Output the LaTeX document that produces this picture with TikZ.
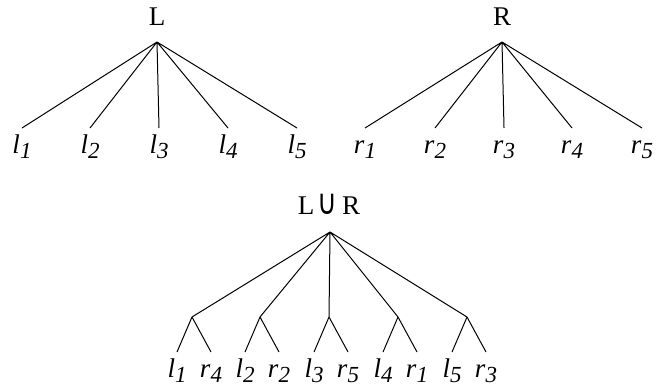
\documentclass[tikz,border=0pt]{standalone}
\usepackage{graphicx}
\usepackage{fontspec}
\setmainfont{Liberation Serif}
\newfontfamily\opfont{DejaVu Sans}

% italic letter with a lowered italic index
\newcommand{\sub}[2]{\textit{#1}\raisebox{-2.5pt}{\fontsize{11.5}{12}\selectfont\textit{#2}}}

\begin{document}
\begin{tikzpicture}[x=0.5pt,y=-0.5pt,line width=0.5pt,
    rootlbl/.style={anchor=base,inner sep=0pt,font=\fontsize{13.5}{15}\selectfont},
    leaf/.style={anchor=north,inner xsep=0pt,inner ysep=3.2pt,text height=9.5pt,
        font=\fontsize{13.5}{15}\selectfont}]
    \useasboundingbox (0,0) rectangle (656,390);

    % tree L
    \node[rootlbl] (L) at (157,26) {L};
    \coordinate (L0) at (157,42);
    \node[leaf] (l1) at (22,128) {\sub{l}{1}};
    \node[leaf] (l2) at (90,128) {\sub{l}{2}};
    \node[leaf] (l3) at (159,128) {\sub{l}{3}};
    \node[leaf] (l4) at (228,128) {\sub{l}{4}};
    \node[leaf] (l5) at (297,128) {\sub{l}{5}};

    \draw (L0) -- (l1.north)
          (L0) -- (l2.north)
          (L0) -- (l3.north)
          (L0) -- (l4.north)
          (L0) -- (l5.north);

    % tree R
    \node[rootlbl] (R) at (502,26) {R};
    \coordinate (R0) at (502,42);
    \node[leaf] (r1) at (365,128) {\sub{r}{1}};
    \node[leaf] (r2) at (435,128) {\sub{r}{2}};
    \node[leaf] (r3) at (504,128) {\sub{r}{3}};
    \node[leaf] (r4) at (572,128) {\sub{r}{4}};
    \node[leaf] (r5) at (642,128) {\sub{r}{5}};

    \draw (R0) -- (r1.north)
          (R0) -- (r2.north)
          (R0) -- (r3.north)
          (R0) -- (r4.north)
          (R0) -- (r5.north);

    % union tree, leaves paired under five inner points
    \node[rootlbl] (LR) at (329,214)
        {L\hspace{1.5pt}\scalebox{1}[1.3]{\opfont ∪}\hspace{2.5pt}R};
    \coordinate (LR0) at (330,232);
    \coordinate (m1) at (192,317);
    \coordinate (m2) at (260,317);
    \coordinate (m3) at (329,317);
    \coordinate (m4) at (398,317);
    \coordinate (m5) at (467,317);
    \node[leaf] (u1) at (177,352) {\sub{l}{1}};
    \node[leaf] (u2) at (211,352) {\sub{r}{4}};
    \node[leaf] (u3) at (245,352) {\sub{l}{2}};
    \node[leaf] (u4) at (279,352) {\sub{r}{2}};
    \node[leaf] (u5) at (314,352) {\sub{l}{3}};
    \node[leaf] (u6) at (348,352) {\sub{r}{5}};
    \node[leaf] (u7) at (383,352) {\sub{l}{4}};
    \node[leaf] (u8) at (417,352) {\sub{r}{1}};
    \node[leaf] (u9) at (452,352) {\sub{l}{5}};
    \node[leaf] (u10) at (486,352) {\sub{r}{3}};

    \draw (LR0) -- (m1) (LR0) -- (m2) (LR0) -- (m3) (LR0) -- (m4) (LR0) -- (m5);
    \draw (m1) -- (u1.north) (m1) -- (u2.north)
          (m2) -- (u3.north) (m2) -- (u4.north)
          (m3) -- (u5.north) (m3) -- (u6.north)
          (m4) -- (u7.north) (m4) -- (u8.north)
          (m5) -- (u9.north) (m5) -- (u10.north);
\end{tikzpicture}
\end{document}
